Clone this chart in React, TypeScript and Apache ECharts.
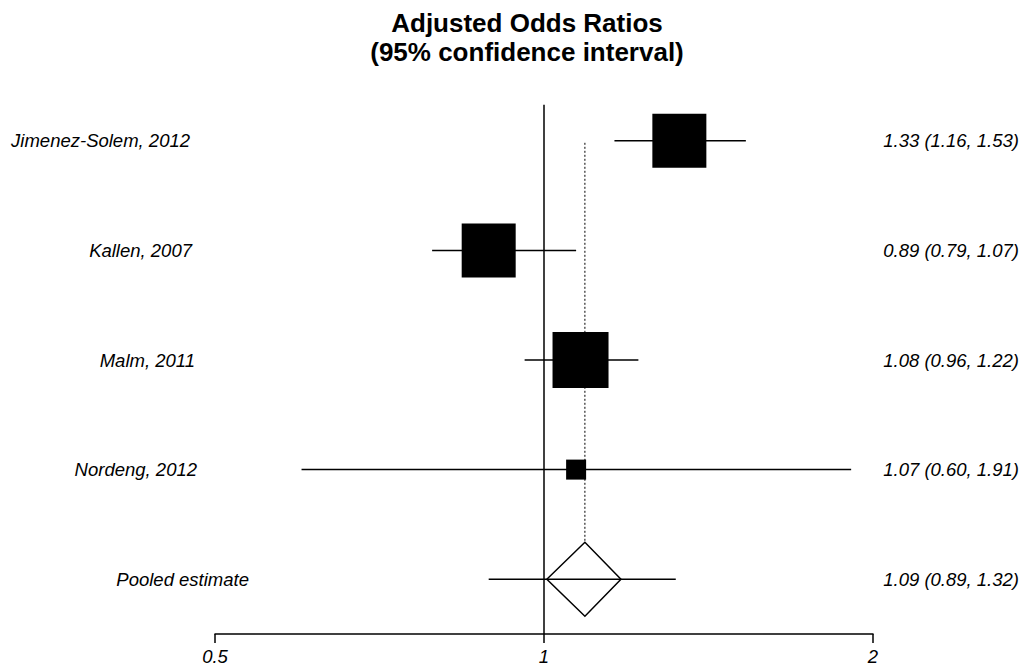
import React, { useEffect, useRef } from "react";
import * as echarts from "echarts";

const studies = ["Jimenez-Solem, 2012", "Kallen, 2007", "Malm, 2011", "Nordeng, 2012"];
const estimates = [1.33, 0.89, 1.08, 1.07];
const lowerCI = [1.16, 0.79, 0.96, 0.6];
const upperCI = [1.53, 1.07, 1.22, 1.91];
const boxSizes = [54, 54, 56, 20];

const pooledLabel = "Pooled estimate";
const pooledEstimate = [1.09];
const pooledLower = [0.89];
const pooledUpper = [1.32];
const diamondBounds = [1.006, 1.176];

const tickValues = [0.5, 1, 2];
const leftLabelRight = [190, 192, 195, 197, 249];

const FONT = "'Liberation Sans', Arial, Helvetica, sans-serif";

export default function App() {
  const ref = useRef<HTMLDivElement>(null);
  useEffect(() => {
    if (!ref.current) return;
    const chart = echarts.init(ref.current, undefined, { renderer: "svg" });
    const allLabels = [...studies, pooledLabel];
    const allEst = [...estimates, pooledEstimate[0]];
    const allLo = [...lowerCI, pooledLower[0]];
    const allHi = [...upperCI, pooledUpper[0]];
    const rightTexts = allEst.map(
      (e, i) => `${e.toFixed(2)} (${allLo[i].toFixed(2)}, ${allHi[i].toFixed(2)})`
    );
    const pooledRow = studies.length;
    const diamondHalfH = 37;

    const option: any = {
      animation: false,
      backgroundColor: "#fff",
      graphic: [
        {
          type: "text",
          x: 527,
          y: 8,
          style: {
            text: "Adjusted Odds Ratios\n(95% confidence interval)",
            font: `bold 26px ${FONT}`,
            fill: "#000",
            textAlign: "center",
            textVerticalAlign: "top",
            lineHeight: 29,
          },
        },
      ],
      grid: { left: 215, right: 149, top: 86, height: 549, containLabel: false },
      xAxis: {
        type: "log",
        logBase: 2,
        min: 0.5,
        max: 2,
        splitNumber: 2,
        axisLine: { show: true, onZero: false, lineStyle: { color: "#000", width: 1.5 } },
        axisTick: { show: true, length: 9, lineStyle: { color: "#000", width: 1.5 } },
        splitLine: { show: false },
        axisLabel: {
          color: "#000",
          fontStyle: "italic",
          fontSize: 18.5,
          fontFamily: FONT,
          margin: 13,
          showMinLabel: true,
          showMaxLabel: true,
          formatter: (v: number) => {
            const t = tickValues.find((x) => Math.abs(x - v) < 1e-6);
            return t !== undefined ? String(t) : "";
          },
        },
      },
      yAxis: {
        type: "value",
        inverse: true,
        min: -0.5,
        max: 4.5,
        show: false,
      },
      series: [
        {
          type: "custom",
          silent: true,
          data: [[1, -0.33, 4.5]],
          encode: { x: 0, y: [1, 2] },
          renderItem: (params: any, api: any) => {
            const a = api.coord([api.value(0), api.value(1)]);
            const b = api.coord([api.value(0), api.value(2)]);
            return {
              type: "line",
              shape: { x1: a[0], y1: a[1], x2: b[0], y2: b[1] },
              style: { stroke: "#000", lineWidth: 1.5 },
            };
          },
        },
        {
          type: "custom",
          silent: true,
          data: [[pooledEstimate[0], 0, pooledRow]],
          encode: { x: 0, y: [1, 2] },
          renderItem: (params: any, api: any) => {
            const a = api.coord([api.value(0), api.value(1)]);
            const b = api.coord([api.value(0), api.value(2)]);
            return {
              type: "line",
              shape: { x1: a[0], y1: a[1] + 2, x2: b[0], y2: b[1] - diamondHalfH },
              style: { stroke: "#000", lineWidth: 1, lineDash: [2, 2] },
            };
          },
        },
        {
          type: "custom",
          silent: true,
          data: studies.map((_, i) => [estimates[i], i, lowerCI[i], upperCI[i], boxSizes[i]]),
          encode: { x: [0, 2, 3], y: 1 },
          renderItem: (params: any, api: any) => {
            const c = api.coord([api.value(0), api.value(1)]);
            const lo = api.coord([api.value(2), api.value(1)]);
            const hi = api.coord([api.value(3), api.value(1)]);
            const s = api.value(4);
            return {
              type: "group",
              children: [
                {
                  type: "line",
                  shape: { x1: lo[0], y1: c[1], x2: hi[0], y2: c[1] },
                  style: { stroke: "#000", lineWidth: 1.5 },
                },
                {
                  type: "rect",
                  shape: { x: c[0] - s / 2, y: c[1] - s / 2, width: s, height: s },
                  style: { fill: "#000" },
                },
              ],
            };
          },
        },
        {
          type: "custom",
          silent: true,
          data: [[pooledEstimate[0], pooledRow, pooledLower[0], pooledUpper[0], diamondBounds[0], diamondBounds[1]]],
          encode: { x: [0, 2, 3], y: 1 },
          renderItem: (params: any, api: any) => {
            const c = api.coord([api.value(0), api.value(1)]);
            const lo = api.coord([api.value(2), api.value(1)]);
            const hi = api.coord([api.value(3), api.value(1)]);
            const dl = api.coord([api.value(4), api.value(1)]);
            const dh = api.coord([api.value(5), api.value(1)]);
            return {
              type: "group",
              children: [
                {
                  type: "line",
                  shape: { x1: lo[0], y1: c[1], x2: hi[0], y2: c[1] },
                  style: { stroke: "#000", lineWidth: 1.5 },
                },
                {
                  type: "polygon",
                  shape: {
                    points: [
                      [dl[0], c[1]],
                      [c[0], c[1] - diamondHalfH],
                      [dh[0], c[1]],
                      [c[0], c[1] + diamondHalfH],
                    ],
                  },
                  style: { fill: "none", stroke: "#000", lineWidth: 1.5 },
                },
              ],
            };
          },
        },
        {
          type: "custom",
          silent: true,
          data: allLabels.map((_, i) => [1, i]),
          encode: { x: 0, y: 1 },
          renderItem: (params: any, api: any) => {
            const i = params.dataIndex;
            const c = api.coord([1, api.value(1)]);
            return {
              type: "group",
              children: [
                {
                  type: "text",
                  x: leftLabelRight[i],
                  y: c[1],
                  style: {
                    text: allLabels[i],
                    font: `italic 18.5px ${FONT}`,
                    fill: "#000",
                    textAlign: "right",
                    textVerticalAlign: "middle",
                  },
                },
                {
                  type: "text",
                  x: 1019,
                  y: c[1],
                  style: {
                    text: rightTexts[i],
                    font: `italic 18.5px ${FONT}`,
                    fill: "#000",
                    textAlign: "right",
                    textVerticalAlign: "middle",
                  },
                },
              ],
            };
          },
        },
      ],
    };
    chart.setOption(option);
    return () => chart.dispose();
  }, []);
  return (
    <div
      ref={ref}
      style={{ position: "fixed", left: 0, top: 0, width: 1022, height: 666, background: "#fff" }}
    />
  );
}
